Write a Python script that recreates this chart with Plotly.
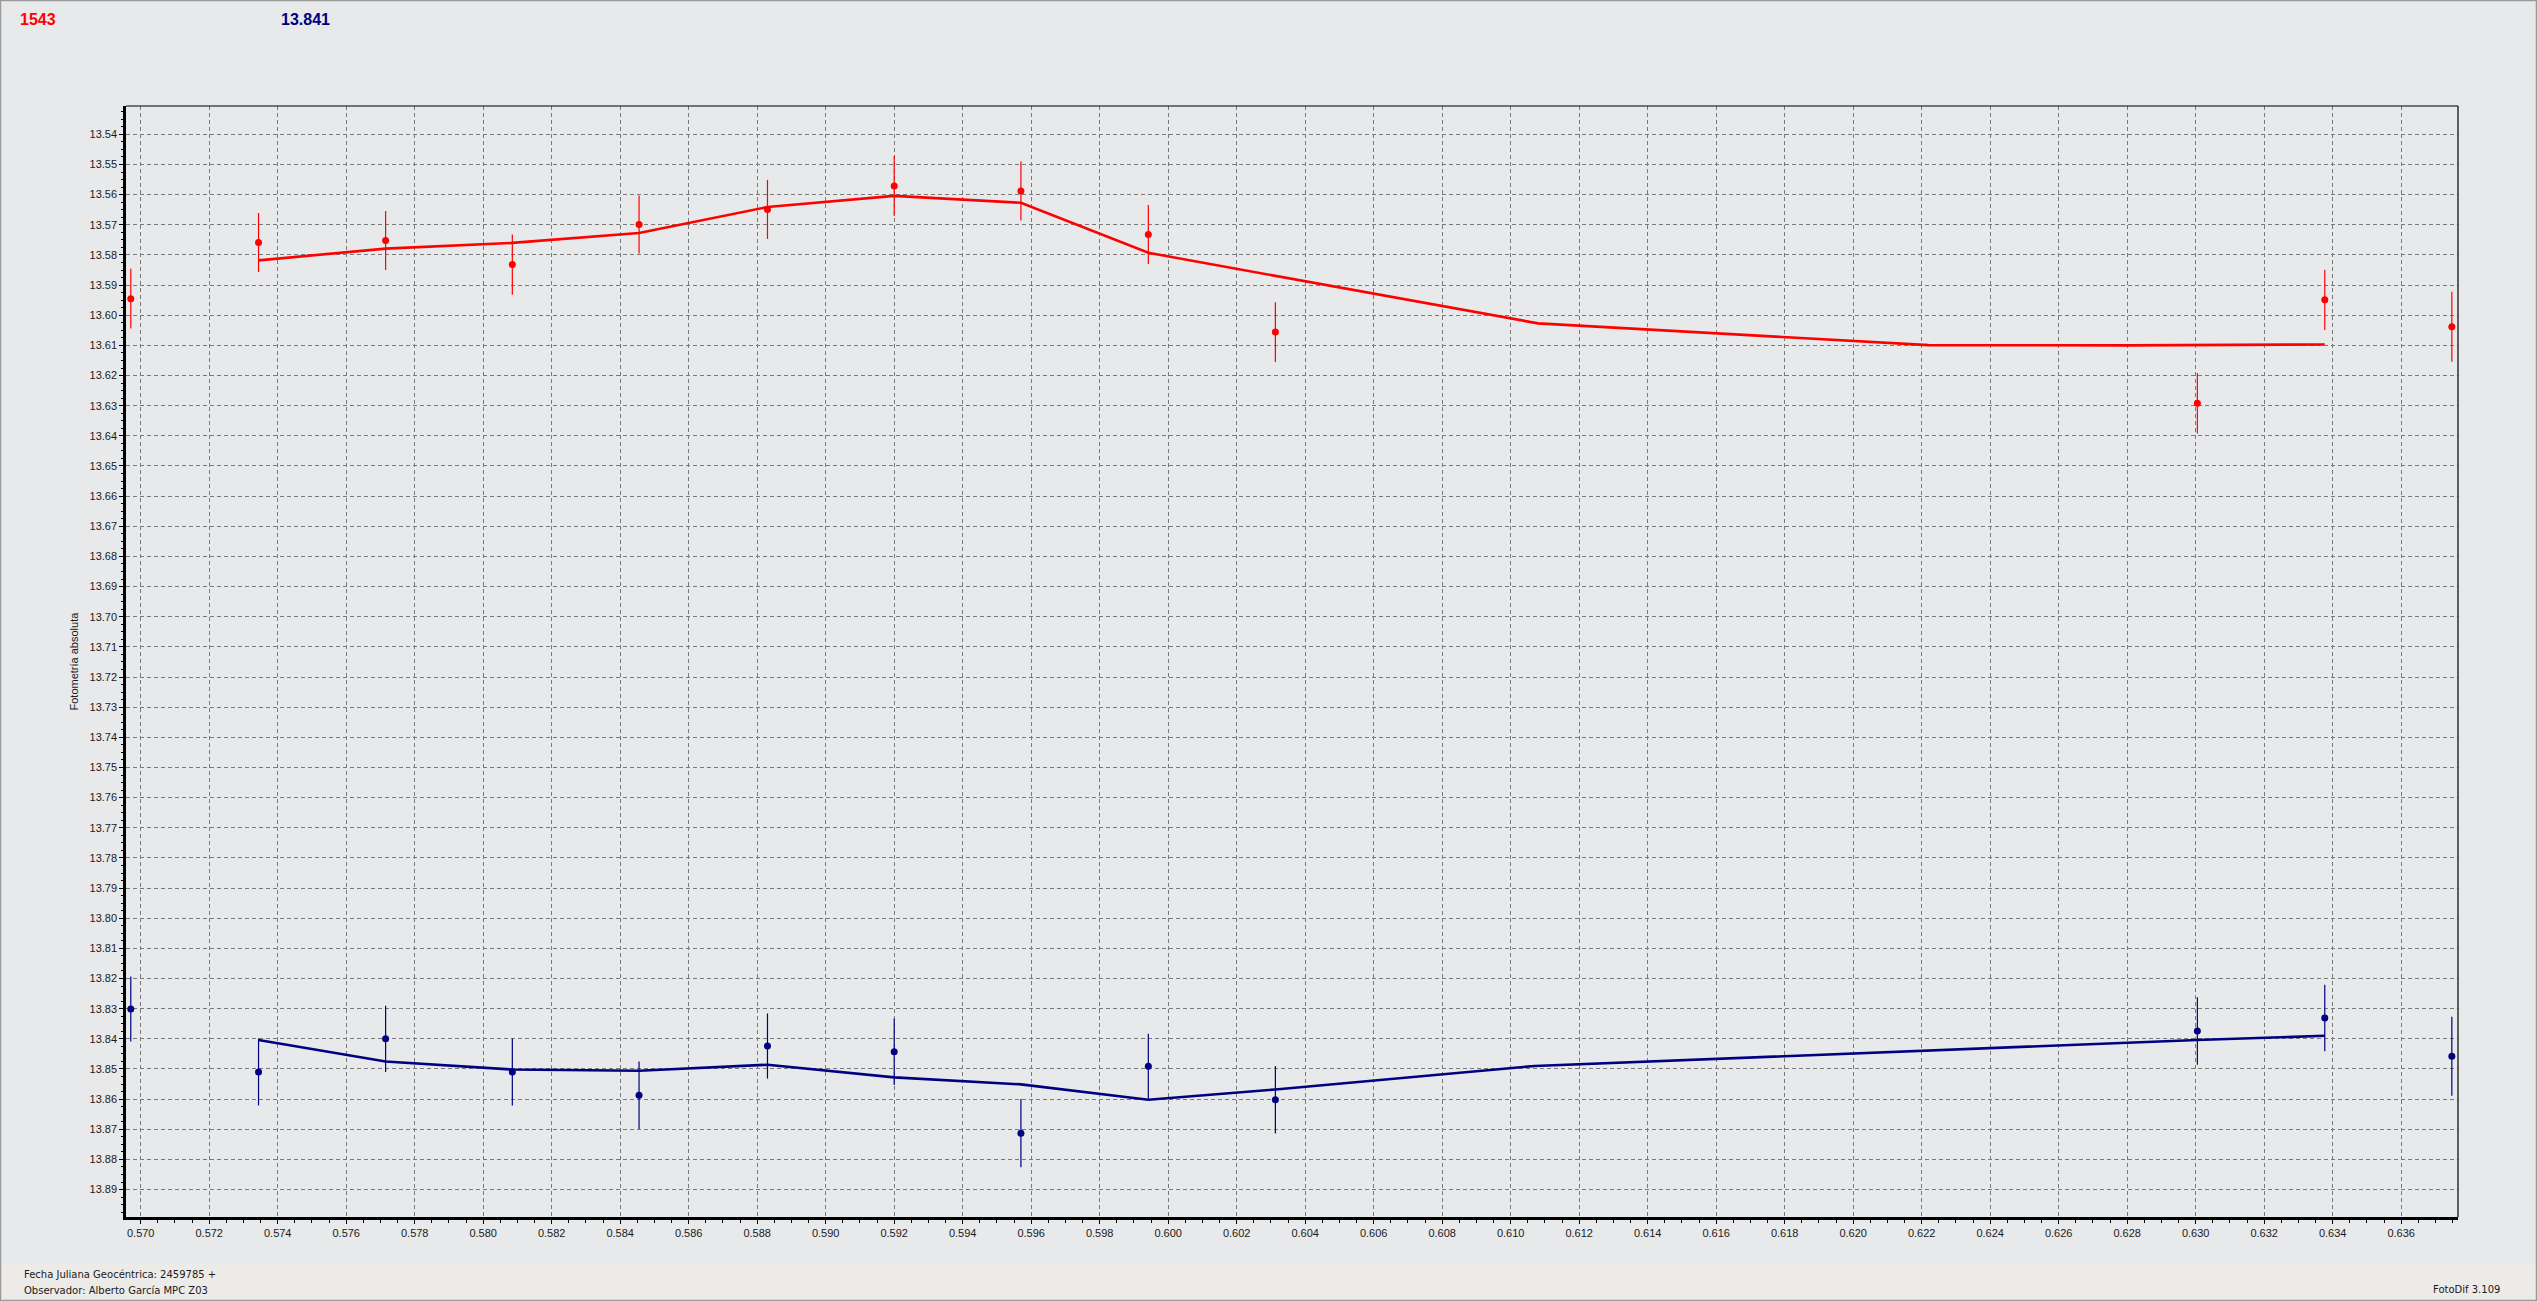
import plotly.graph_objects as go

# ---- data ----
jd = [0.56971, 0.57344, 0.57715, 0.58085, 0.58455, 0.58830, 0.59200,
      0.59570, 0.59942, 0.60313, 0.63005, 0.63377, 0.63748]

red_mag = [13.5945, 13.5759, 13.5752, 13.5832, 13.5699, 13.5649, 13.5571,
           13.5588, 13.5732, 13.6056, 13.6292, 13.5949, 13.6038]
red_err = [0.0099, 0.0098, 0.0098, 0.0100, 0.0096, 0.0098, 0.0099,
           0.0098, 0.0098, 0.0099, 0.0100, 0.0100, 0.0116]

blue_mag = [13.8301, 13.8510, 13.8400, 13.8510, 13.8587, 13.8424, 13.8443,
            13.8713, 13.8491, 13.8602, 13.8374, 13.8331, 13.8458]
blue_err = [0.0108, 0.0111, 0.0110, 0.0111, 0.0112, 0.0108, 0.0110,
            0.0113, 0.0108, 0.0112, 0.0112, 0.0110, 0.0131]

red_fit_x = [0.57344, 0.57715, 0.58085, 0.58455, 0.58830, 0.59200, 0.59570,
             0.59942, 0.61080, 0.62220, 0.62800, 0.63377]
red_fit_y = [13.5818, 13.5779, 13.5760, 13.5727, 13.5641, 13.5604, 13.5627,
             13.5793, 13.6027, 13.6099, 13.6100, 13.6097]

blue_fit_x = [0.57344, 0.57715, 0.58085, 0.58455, 0.58830, 0.59200, 0.59570,
              0.59942, 0.60313, 0.61070, 0.63005, 0.63377]
blue_fit_y = [13.8404, 13.8475, 13.8502, 13.8506, 13.8486, 13.8528, 13.8551,
              13.8602, 13.8568, 13.8490, 13.8404, 13.8390]

label_red = "1543"
label_blue = "13.841"
x_label = "Fecha Juliana Geocéntrica: 2459785 +"
observer = "Observador: Alberto García MPC Z03"
y_title = "Fotometría absoluta"
version = "FotoDif 3.109"

RED = "#FF0000"
NAVY = "#000080"
BG = "#E8E9EB"

W, H = 2538, 1302
L, R, T, B = 126, 80, 106, 85
PW, PH = W - L - R, H - T - B


def px(x):
    return (x - L) / PW


def py(y):
    return 1 - (y - T) / PH


fig = go.Figure()

fig.add_trace(go.Scatter(x=red_fit_x, y=red_fit_y, mode="lines",
                         line=dict(color=RED, width=2.6), hoverinfo="skip"))
fig.add_trace(go.Scatter(x=blue_fit_x, y=blue_fit_y, mode="lines",
                         line=dict(color=NAVY, width=2.6), hoverinfo="skip"))
fig.add_trace(go.Scatter(x=jd, y=red_mag, mode="markers",
                         marker=dict(color=RED, size=7),
                         error_y=dict(type="data", array=red_err, color=RED,
                                      thickness=1.2, width=0)))
fig.add_trace(go.Scatter(x=jd, y=blue_mag, mode="markers",
                         marker=dict(color=NAVY, size=7),
                         error_y=dict(type="data", array=blue_err, color=NAVY,
                                      thickness=1.2, width=0)))

tickfont = dict(family="Liberation Sans, Arial, sans-serif", size=11, color="#1a1a1a")

fig.update_layout(
    width=W, height=H,
    margin=dict(l=L, r=R, t=T, b=B, pad=0),
    paper_bgcolor=BG, plot_bgcolor=BG,
    showlegend=False,
    xaxis=dict(range=[0.56957, 0.63766], tick0=0.570, dtick=0.002,
               tickformat=".3f", showgrid=True, gridcolor="#7a7a7a",
               griddash="4px,3px", gridwidth=1, zeroline=False,
               showline=True, linecolor="black", linewidth=2.5,
               ticks="outside", ticklen=4, tickcolor="black", tickwidth=1,
               minor=dict(dtick=0.0005, ticks="outside", ticklen=3,
                          tickcolor="black", showgrid=False),
               tickfont=tickfont),
    yaxis=dict(range=[13.8991, 13.5306], tick0=13.54, dtick=0.01,
               tickformat=".2f", showgrid=True, gridcolor="#7a7a7a",
               griddash="4px,3px", gridwidth=1, zeroline=False,
               showline=True, linecolor="black", linewidth=2.5,
               ticks="outside", ticklen=4, tickcolor="black", tickwidth=1,
               minor=dict(dtick=0.0025, ticks="outside", ticklen=2,
                          tickcolor="black", showgrid=False),
               tickfont=tickfont),
)

# top / right frame lines of the plot area (thin)
fig.add_shape(type="line", xref="paper", yref="paper", x0=0, x1=1, y0=1, y1=1,
              line=dict(color="black", width=1.2))
fig.add_shape(type="line", xref="paper", yref="paper", x0=1, x1=1, y0=0, y1=1,
              line=dict(color="black", width=1.2))
# status band at the bottom
fig.add_shape(type="rect", xref="paper", yref="paper", layer="below",
              x0=px(1), x1=px(W - 2), y0=py(H - 2), y1=py(1264),
              fillcolor="#ECEBE8", line=dict(width=0))
# window border
fig.add_shape(type="rect", xref="paper", yref="paper",
              x0=px(0.5), x1=px(W - 1.5), y0=py(H - 1.5), y1=py(0.5),
              line=dict(color="#9a9a9a", width=1.5))

fig.add_annotation(x=px(18), y=py(19), xref="paper", yref="paper",
                   text=f"<b>{label_red}</b>", showarrow=False,
                   xanchor="left", yanchor="middle",
                   font=dict(family="Liberation Sans, Arial", size=16, color=RED))
fig.add_annotation(x=px(279), y=py(19), xref="paper", yref="paper",
                   text=f"<b>{label_blue}</b>", showarrow=False,
                   xanchor="left", yanchor="middle",
                   font=dict(family="Liberation Sans, Arial", size=16, color=NAVY))
fig.add_annotation(x=px(73), y=0.5, xref="paper", yref="paper",
                   text=y_title, textangle=-90, showarrow=False,
                   xanchor="center", yanchor="middle",
                   font=dict(family="Liberation Sans, Arial", size=11, color="#1a1a1a"))
fig.add_annotation(x=px(22), y=py(1274), xref="paper", yref="paper",
                   text=x_label, showarrow=False, xanchor="left", yanchor="middle",
                   font=dict(family="DejaVu Sans, Liberation Sans", size=10, color="#1a1a1a"))
fig.add_annotation(x=px(22), y=py(1290), xref="paper", yref="paper",
                   text=observer, showarrow=False, xanchor="left", yanchor="middle",
                   font=dict(family="DejaVu Sans, Liberation Sans", size=10, color="#1a1a1a"))
fig.add_annotation(x=px(2502), y=py(1289), xref="paper", yref="paper",
                   text=version, showarrow=False, xanchor="right", yanchor="middle",
                   font=dict(family="DejaVu Sans, Liberation Sans", size=10, color="#1a1a1a"))

fig.write_html("out.html",
               config={"displayModeBar": False},
               post_script="document.body.style.margin='0';"
                           "document.body.style.overflow='hidden';")
